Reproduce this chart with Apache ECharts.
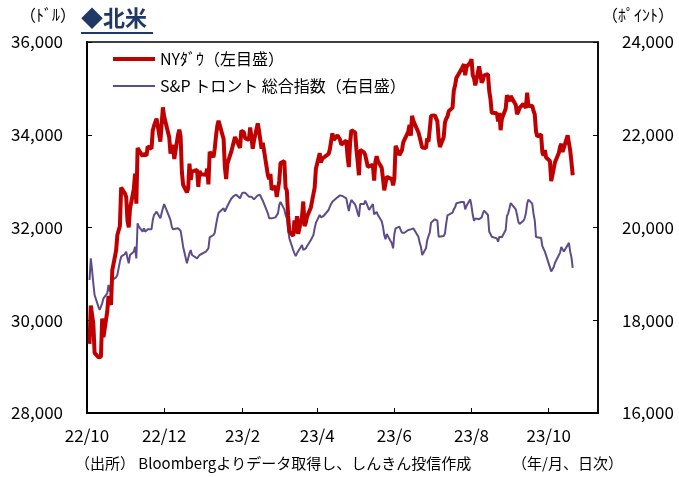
<!DOCTYPE html>
<html><head><meta charset="utf-8">
<script src="https://cdn.jsdelivr.net/npm/echarts@6/dist/echarts.min.js"></script>
<style>html,body{margin:0;padding:0;background:#fff}#c{width:679px;height:477px}</style>
</head><body><div id="c"></div>
<script>
// ---- data ----
const months = ['2022-10','2022-11','2022-12','2023-01','2023-02','2023-03','2023-04','2023-05','2023-06','2023-07','2023-08','2023-09','2023-10'];
const tradingDays = [
  [3,4,5,6,7,10,11,12,13,14,17,18,19,20,21,24,25,26,27,28,31],
  [1,2,3,4,7,8,9,10,11,14,15,16,17,18,21,22,23,25,28,29,30],
  [1,2,5,6,7,8,9,12,13,14,15,16,19,20,21,22,23,27,28,29,30],
  [3,4,5,6,9,10,11,12,13,17,18,19,20,23,24,25,26,27,30,31],
  [1,2,3,6,7,8,9,10,13,14,15,16,17,21,22,23,24,27,28],
  [1,2,3,6,7,8,9,10,13,14,15,16,17,20,21,22,23,24,27,28,29,30,31],
  [3,4,5,6,10,11,12,13,14,17,18,19,20,21,24,25,26,27,28],
  [1,2,3,4,5,8,9,10,11,12,15,16,17,18,19,22,23,24,25,26,30,31],
  [1,2,5,6,7,8,9,12,13,14,15,16,20,21,22,23,26,27,28,29,30],
  [3,5,6,7,10,11,12,13,14,17,18,19,20,21,24,25,26,27,28,31],
  [1,2,3,4,7,8,9,10,11,14,15,16,17,18,21,22,23,24,25,28,29,30,31],
  [1,5,6,7,8,11,12,13,14,15,18,19,20,21,22,25,26,27,28,29],
  [2,3,4,5,6,9,10,11,12,13,16,17,18,19,20]
];
// NY Dow (left axis, USD)
const dow = [
  29490,30316,30273,29926,29297,29202,29239,29210,30038,29635,30186,30524,30424,30333,31083,31500,31837,31839,32034,32861,32733,
  32653,32148,32001,32403,32827,33161,32514,33716,33748,33537,33593,33554,33547,33746,33700,34098,34195,34347,33850,33853,34590,
  34395,34430,33947,33596,33597,33781,33476,34005,34109,33966,33203,32920,32757,32850,33377,33027,33204,33241,32876,33221,33147,
  33136,33270,32930,33631,33518,33704,33974,34190,34303,33910,33297,33045,33376,33630,33734,33744,33949,33978,33717,34086,
  34093,34054,33926,33891,34156,33949,33699,33869,34246,34089,34128,33697,33827,33130,33045,33154,32817,32889,32657,
  32662,33003,33391,33431,32856,32798,32255,31910,31820,32155,31875,32247,31862,32245,32561,32031,32106,32238,32433,32394,32718,32860,33274,
  33601,33403,33483,33486,33587,33685,33647,34030,33887,33988,33977,33897,33787,33809,33876,33531,33302,33827,34098,
  34051,33684,33415,33128,33675,33619,33562,33531,33310,33301,33349,33013,33421,33536,33427,33287,33056,32800,32765,33093,33043,32908,
  33061,33763,33563,33573,33665,33834,33877,34066,34212,33979,34408,34299,34054,33952,33947,33727,33715,33927,33853,34122,34408,
  34418,34288,33922,33734,33944,34262,34347,34395,34509,34585,34952,35061,35225,35228,35411,35438,35520,35282,35459,35560,
  35630,35283,35216,35066,35473,35314,35123,35176,35281,35307,34946,34766,34475,34500,34464,34288,34473,34099,34347,34559,34852,34890,34722,
  34838,34642,34443,34500,34577,34664,34646,34576,34908,34618,34625,34518,34441,34070,33964,34007,33619,33551,33667,33508,
  33433,33002,33130,33120,33408,33605,33740,33804,33631,33670,33985,33998,33665,33415,33127
];
// S&P/TSX composite (right axis, points)
const tsx = [
  18868,19335,19083,18796,18544,18293,18221,18185,18365,18472,18580,18760,18616,18796,18868,18925,18975,19119,19263,19371,19428,
  19479,19335,19227,19407,19479,19586,19335,20090,20018,19910,19982,19910,19931,19960,19960,20161,20269,20341,20197,20305,20413,
  20506,20463,20233,20161,20018,19960,19946,19982,19960,19931,19766,19586,19227,19213,19443,19515,19407,19335,19299,19407,19371,
  19479,19515,19550,19787,19838,19888,20054,20197,20320,20413,20341,20377,20463,20621,20607,20679,20650,20708,20629,20700,
  20751,20765,20751,20665,20701,20665,20629,20607,20693,20708,20700,20629,20578,20305,20197,20176,20197,20219,20233,
  20305,20485,20550,20391,20269,20197,19946,19766,19515,19443,19385,19443,19400,19622,19515,19500,19550,19601,19730,19766,19838,19982,20104,
  20269,20219,20219,20248,20377,20449,20506,20557,20593,20650,20679,20693,20686,20679,20629,20485,20355,20506,20593,
  20492,20413,20305,20233,20506,20506,20578,20521,20449,20377,20506,20284,20305,20334,20269,20133,20018,19838,19745,19860,19658,19550,
  19860,19982,20018,19946,19888,19874,19888,19946,19982,19960,19946,19982,19802,19673,19586,19407,19550,19730,19816,19888,20104,
  20176,20147,19802,19802,19816,19874,20090,20262,20255,20320,20391,20435,20521,20535,20550,20521,20550,20391,20463,20607,
  20463,20269,20147,20197,20176,20190,20219,20305,20363,20269,19910,19860,19802,19788,19766,19694,19802,19816,19788,19946,20248,20305,20413,
  20528,20391,20269,20126,20075,20147,20197,20305,20521,20600,20515,20300,20150,19795,19780,19773,19600,19540,19480,19500,
  19140,19050,19015,19150,19240,19400,19460,19580,19540,19480,19620,19670,19480,19360,19130
];
const tickDates = ['2022-10-01','2022-12-01','2023-02-01','2023-04-01','2023-06-01','2023-08-01','2023-10-01'];
const tickLabels = ['22/10','22/12','23/2','23/4','23/6','23/8','23/10'];
const axisStartDate = '2022-10-01';
const axisEndDate = '2023-11-09';
const seriesNames = ['NYﾀﾞｳ（左目盛）','S&P トロント 総合指数（右目盛）'];

// ---- build ----
const FONT = '"Noto Sans CJK JP", "Noto Sans", sans-serif';
const pad = n => (n < 10 ? '0' : '') + n;
const dayNum = s => { const p = s.split('-').map(Number); const q = axisStartDate.split('-').map(Number);
  return Math.round((Date.UTC(p[0], p[1]-1, p[2]) - Date.UTC(q[0], q[1]-1, q[2])) / 86400000); };
const dates = [];
months.forEach((m, i) => tradingDays[i].forEach(d => dates.push(m + '-' + pad(d))));
const tickDays = tickDates.map(dayNum);
const fmt = v => String(v).replace(/\B(?=(\d{3})+(?!\d))/g, ',');

const chart = echarts.init(document.getElementById('c'), null, {renderer: 'canvas'});
chart.setOption({
  animation: false,
  backgroundColor: '#fff',
  textStyle: {fontFamily: FONT},
  grid: {left: 87, right: 81, top: 42, bottom: 64, show: true, borderColor: '#000', borderWidth: 1.5, containLabel: false},
  legend: {
    orient: 'vertical', left: 108, top: 46, itemWidth: 42, itemHeight: 14, itemGap: 11,
    textStyle: {fontSize: 16, color: '#000', fontFamily: FONT},
    data: [
      {name: seriesNames[0], icon: 'path://M0,0L42,0L42,4L0,4Z', itemStyle: {color: '#C00000'}},
      {name: seriesNames[1], icon: 'path://M0,0L42,0L42,2L0,2Z', itemStyle: {color: '#5E4C8A'}}
    ]
  },
  xAxis: {
    type: 'value', min: 0, max: dayNum(axisEndDate),
    axisLine: {show: true, lineStyle: {color: '#000', width: 2}},
    axisTick: {show: true, inside: true, length: 5, customValues: tickDays, lineStyle: {color: '#000', width: 1}},
    axisLabel: {customValues: tickDays, formatter: v => tickLabels[tickDays.indexOf(Math.round(v))] || '',
      margin: 14, fontSize: 17, color: '#000', fontFamily: FONT},
    splitLine: {show: false}
  },
  yAxis: [
    {type: 'value', position: 'left', min: 28000, max: 36000, interval: 2000,
     axisLine: {show: true, lineStyle: {color: '#000', width: 2}},
     axisTick: {show: true, inside: true, length: 5, lineStyle: {color: '#000'}},
     axisLabel: {formatter: fmt, margin: 24, fontSize: 17, color: '#000', fontFamily: FONT},
     splitLine: {show: false}},
    {type: 'value', position: 'right', min: 16000, max: 24000, interval: 2000,
     axisLine: {show: true, lineStyle: {color: '#000', width: 1.5}},
     axisTick: {show: true, inside: true, length: 5, lineStyle: {color: '#000'}},
     axisLabel: {formatter: fmt, margin: 24, fontSize: 17, color: '#000', fontFamily: FONT},
     splitLine: {show: false}}
  ],
  series: [
    {name: seriesNames[0], type: 'line', yAxisIndex: 0, showSymbol: false, symbol: 'none',
     lineStyle: {color: '#C00000', width: 4}, itemStyle: {color: '#C00000'},
     data: dates.map((s, i) => [dayNum(s), dow[i]]), z: 3},
    {name: seriesNames[1], type: 'line', yAxisIndex: 1, showSymbol: false, symbol: 'none',
     lineStyle: {color: '#5E4C8A', width: 2}, itemStyle: {color: '#5E4C8A'},
     data: dates.map((s, i) => [dayNum(s), tsx[i]]), z: 2}
  ],
  graphic: [
    {type: 'text', left: 81, top: 7, style: {text: '◆北米', font: 'bold 22px ' + FONT, fill: '#1F3864'}},
    {type: 'line', shape: {x1: 81, y1: 33, x2: 153, y2: 33}, style: {stroke: '#1F3864', lineWidth: 2}},
    {type: 'text', left: 20, top: 7, style: {text: '（ﾄﾞﾙ）', font: '16px ' + FONT, fill: '#000'}},
    {type: 'text', right: 5, top: 7, style: {text: '（ﾎﾟｲﾝﾄ）', font: '16px ' + FONT, fill: '#000'}},
    {type: 'text', left: 75, top: 456, style: {text: '（出所） Bloombergよりデータ取得し、しんきん投信作成', font: '15px ' + FONT, fill: '#000'}},
    {type: 'text', left: 512, top: 456, style: {text: '（年/月、日次）', font: '15px ' + FONT, fill: '#000'}}
  ]
});
</script></body></html>
